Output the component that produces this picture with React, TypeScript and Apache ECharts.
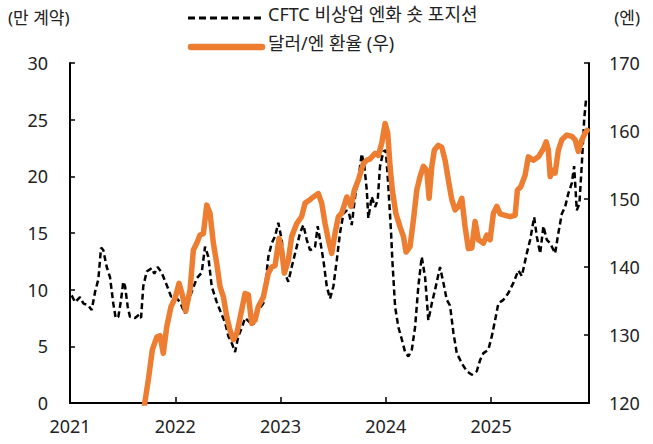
import React, { useEffect, useRef } from "react";
import * as echarts from "echarts";

// CFTC non-commercial yen short position (10k contracts), x = decimal year
const cftcX = [
  2021.016, 2021.048, 2021.095, 2021.126, 2021.174, 2021.206, 2021.238, 2021.269, 2021.295, 2021.316,
  2021.349, 2021.38, 2021.411, 2021.434, 2021.459, 2021.485, 2021.506, 2021.523, 2021.548, 2021.57,
  2021.618, 2021.656, 2021.675, 2021.696, 2021.729, 2021.776, 2021.801, 2021.833, 2021.871, 2021.919,
  2021.96, 2021.998, 2022.045, 2022.093, 2022.14, 2022.204, 2022.251, 2022.283, 2022.314, 2022.346,
  2022.394, 2022.441, 2022.473, 2022.504, 2022.536, 2022.568, 2022.599, 2022.631, 2022.663, 2022.71,
  2022.742, 2022.789, 2022.837, 2022.884, 2022.916, 2022.948, 2022.979, 2023.011, 2023.043, 2023.074,
  2023.106, 2023.154, 2023.185, 2023.217, 2023.249, 2023.28, 2023.312, 2023.328, 2023.353, 2023.375,
  2023.407, 2023.439, 2023.47, 2023.502, 2023.534, 2023.565, 2023.597, 2023.629, 2023.651, 2023.676,
  2023.708, 2023.739, 2023.771, 2023.796, 2023.819, 2023.834, 2023.866, 2023.898, 2023.923, 2023.945,
  2023.977, 2024.0, 2024.024, 2024.05, 2024.062, 2024.088, 2024.119, 2024.152, 2024.183, 2024.214,
  2024.247, 2024.278, 2024.309, 2024.341, 2024.373, 2024.404, 2024.437, 2024.468, 2024.515, 2024.547,
  2024.579, 2024.61, 2024.642, 2024.674, 2024.722, 2024.769, 2024.817, 2024.864, 2024.896, 2024.927,
  2024.974, 2025.007, 2025.038, 2025.069, 2025.117, 2025.164, 2025.212, 2025.259, 2025.292, 2025.339,
  2025.371, 2025.409, 2025.434, 2025.466, 2025.497, 2025.529, 2025.561, 2025.608, 2025.639, 2025.672,
  2025.703, 2025.734, 2025.767, 2025.789, 2025.814, 2025.839, 2025.862, 2025.884, 2025.903,
];
const cftcValues = [
  9.5, 8.9, 9.35, 8.8, 8.6, 8.2, 9.8, 10.9, 13.7, 13.5,
  12.0, 11.1, 8.8, 7.5, 7.6, 9.1, 10.7, 10.3, 8.5, 7.6,
  7.5, 7.8, 7.5, 10.3, 11.6, 11.9, 11.4, 12.0, 11.5, 10.4,
  9.4, 9.4, 8.9, 7.9, 9.4, 11.0, 11.5, 13.8, 12.9, 10.3,
  8.9, 7.8, 7.1, 5.9, 5.3, 4.5, 5.9, 6.6, 7.5, 7.1,
  6.9, 8.2, 8.8, 12.9, 14.1, 14.7, 15.9, 14.4, 11.4, 10.7,
  12.0, 13.8, 15.0, 15.7, 14.4, 13.5, 13.6, 13.8, 15.6, 14.4,
  12.6, 10.3, 9.2, 10.3, 12.6, 15.0, 16.7, 17.0, 16.7, 15.7,
  18.2, 19.7, 22.0, 20.9, 18.8, 16.3, 18.2, 17.3, 17.9, 20.9,
  22.2, 22.3, 19.1, 15.0, 12.6, 8.5, 6.7, 5.6, 4.5, 4.1,
  4.7, 6.7, 10.3, 12.9, 11.1, 7.3, 8.8, 10.0, 12.0, 10.6,
  9.1, 8.6, 6.2, 4.4, 3.5, 2.8, 2.5, 2.8, 3.8, 4.4,
  4.7, 5.9, 7.3, 8.8, 9.1, 9.7, 10.6, 11.7, 11.2, 13.2,
  14.4, 16.4, 14.7, 13.2, 15.6, 14.4, 14.1, 13.2, 15.0, 16.7,
  17.3, 18.5, 19.4, 20.9, 17.0, 17.6, 21.1, 25.0, 26.9,
];

// USD/JPY (right axis), x = decimal year
const fxX = [
  2021.7, 2021.744, 2021.782, 2021.824, 2021.855, 2021.886, 2021.919, 2021.96, 2021.998, 2022.036,
  2022.067, 2022.099, 2022.14, 2022.172, 2022.204, 2022.235, 2022.267, 2022.299, 2022.33, 2022.362,
  2022.394, 2022.425, 2022.457, 2022.489, 2022.52, 2022.552, 2022.584, 2022.631, 2022.663, 2022.694,
  2022.726, 2022.758, 2022.789, 2022.837, 2022.884, 2022.916, 2022.948, 2022.986, 2023.011, 2023.036,
  2023.074, 2023.106, 2023.154, 2023.2, 2023.233, 2023.28, 2023.312, 2023.359, 2023.391, 2023.423,
  2023.454, 2023.486, 2023.518, 2023.549, 2023.581, 2023.629, 2023.67, 2023.701, 2023.739, 2023.786,
  2023.819, 2023.85, 2023.898, 2023.929, 2023.961, 2023.993, 2024.018, 2024.04, 2024.062, 2024.095,
  2024.135, 2024.167, 2024.192, 2024.23, 2024.262, 2024.294, 2024.325, 2024.357, 2024.389, 2024.411,
  2024.437, 2024.461, 2024.499, 2024.532, 2024.563, 2024.594, 2024.627, 2024.658, 2024.689, 2024.722,
  2024.753, 2024.784, 2024.817, 2024.848, 2024.879, 2024.927, 2024.959, 2024.99, 2025.022, 2025.054,
  2025.086, 2025.133, 2025.181, 2025.228, 2025.25, 2025.282, 2025.323, 2025.354, 2025.402, 2025.449,
  2025.497, 2025.523, 2025.544, 2025.561, 2025.586, 2025.608, 2025.639, 2025.672, 2025.719, 2025.767,
  2025.798, 2025.829, 2025.862, 2025.893, 2025.912,
];
const fxValues = [
  119.0, 123.4, 127.8, 129.7, 129.9, 127.3, 131.2, 134.2, 135.4, 137.6,
  135.9, 133.5, 136.6, 142.5, 143.5, 144.7, 144.9, 149.1, 147.9, 143.5,
  140.5, 137.1, 135.6, 132.7, 130.7, 129.3, 130.2, 133.7, 136.1, 135.9,
  131.7, 132.2, 134.2, 135.6, 139.1, 140.0, 140.2, 144.2, 142.5, 139.1,
  141.0, 144.5, 146.4, 147.4, 149.4, 149.9, 150.3, 150.8, 149.4, 146.4,
  144.0, 142.0, 145.0, 147.4, 147.9, 150.3, 148.9, 151.3, 152.8, 155.2,
  155.7, 155.9, 156.7, 156.4, 158.2, 161.1, 159.7, 154.8, 151.3, 147.9,
  145.9, 144.5, 142.2, 143.0, 146.9, 151.3, 153.3, 154.8, 154.2, 150.1,
  154.8, 157.2, 157.9, 157.6, 155.7, 152.8, 149.9, 148.4, 148.9, 150.1,
  145.9, 142.7, 142.8, 146.7, 144.0, 143.5, 144.7, 144.0, 147.9, 148.9,
  147.8, 147.6, 147.4, 147.6, 151.3, 151.8, 153.5, 156.2, 155.7, 156.2,
  157.4, 158.4, 157.2, 153.3, 154.2, 153.8, 157.2, 158.7, 159.4, 159.2,
  158.7, 157.0, 158.7, 159.7, 160.1,
];

const seriesNames = ["CFTC 비상업 엔화 숏 포지션", "달러/엔 환율 (우)"];
const leftTitle = "(만 계약)";
const rightTitle = "(엔)";

const ORANGE = "#ED7D31";
const FONT = "'Noto Sans', 'Noto Sans CJK KR', sans-serif";

export default function App() {
  const ref = useRef<HTMLDivElement>(null);
  useEffect(() => {
    document.body.style.margin = "0";
    if (!ref.current) return;
    const chart = echarts.init(ref.current, null, { renderer: "svg" });
    const cftcData = cftcX.map((x, i) => [x, cftcValues[i]]);
    const fxData = fxX.map((x, i) => [x, fxValues[i]]);
    const yearFmt = (v: number) => (Math.abs(v - Math.round(v)) < 1e-6 ? String(Math.round(v)) : "");
    chart.setOption({
      animation: false,
      backgroundColor: "#ffffff",
      textStyle: { fontFamily: FONT },
      grid: { left: 70, right: 64, top: 63, bottom: 41, containLabel: false },
      xAxis: {
        type: "value",
        min: 2021,
        max: 2025.93,
        interval: 1,
        axisLine: { show: true, lineStyle: { color: "#000", width: 2 } },
        axisTick: { show: true, inside: true, length: 6, lineStyle: { color: "#000", width: 1.5 } },
        axisLabel: { formatter: yearFmt, color: "#222", fontSize: 18, margin: 14, fontFamily: FONT },
        splitLine: { show: false },
      },
      yAxis: [
        {
          type: "value",
          min: 0,
          max: 30,
          interval: 5,
          axisLine: { show: true, lineStyle: { color: "#000", width: 2 } },
          axisTick: { show: true, inside: true, length: 5, lineStyle: { color: "#000", width: 1.5 } },
          axisLabel: { color: "#222", fontSize: 18, margin: 22, fontFamily: FONT },
          splitLine: { show: false },
        },
        {
          type: "value",
          min: 120,
          max: 170,
          interval: 10,
          position: "right",
          axisLine: { show: true, lineStyle: { color: "#000", width: 2 } },
          axisTick: { show: true, inside: true, length: 5, lineStyle: { color: "#000", width: 1.5 } },
          axisLabel: { color: "#222", fontSize: 18, margin: 20, fontFamily: FONT },
          splitLine: { show: false },
        },
      ],
      series: [
        {
          name: seriesNames[0],
          type: "line",
          yAxisIndex: 0,
          data: cftcData,
          symbol: "none",
          lineStyle: { color: "#000", width: 2.5, type: [6, 3.5] },
          z: 2,
        },
        {
          name: seriesNames[1],
          type: "line",
          yAxisIndex: 1,
          data: fxData,
          symbol: "none",
          clip: true,
          lineStyle: { color: ORANGE, width: 5.5, cap: "round", join: "round" },
          z: 3,
        },
      ],
      graphic: [
        { type: "text", left: 8, top: 9, style: { text: leftTitle, fontSize: 17, fill: "#222", fontFamily: FONT } },
        { type: "text", right: 13, top: 9, style: { text: rightTitle, fontSize: 17, fill: "#222", fontFamily: FONT } },
        {
          type: "line",
          shape: { x1: 188, y1: 18, x2: 264, y2: 18 },
          style: { stroke: "#000", lineWidth: 3, lineDash: [7, 4] },
        },
        { type: "text", left: 268, top: 5, style: { text: seriesNames[0], fontSize: 18, fill: "#222", fontFamily: FONT } },
        {
          type: "line",
          shape: { x1: 191, y1: 47, x2: 262, y2: 47 },
          style: { stroke: ORANGE, lineWidth: 6.5, lineCap: "round" },
        },
        { type: "text", left: 268, top: 34, style: { text: seriesNames[1], fontSize: 18, fill: "#222", fontFamily: FONT } },
      ],
    });
    return () => chart.dispose();
  }, []);
  return <div ref={ref} style={{ width: 653, height: 444 }} />;
}
